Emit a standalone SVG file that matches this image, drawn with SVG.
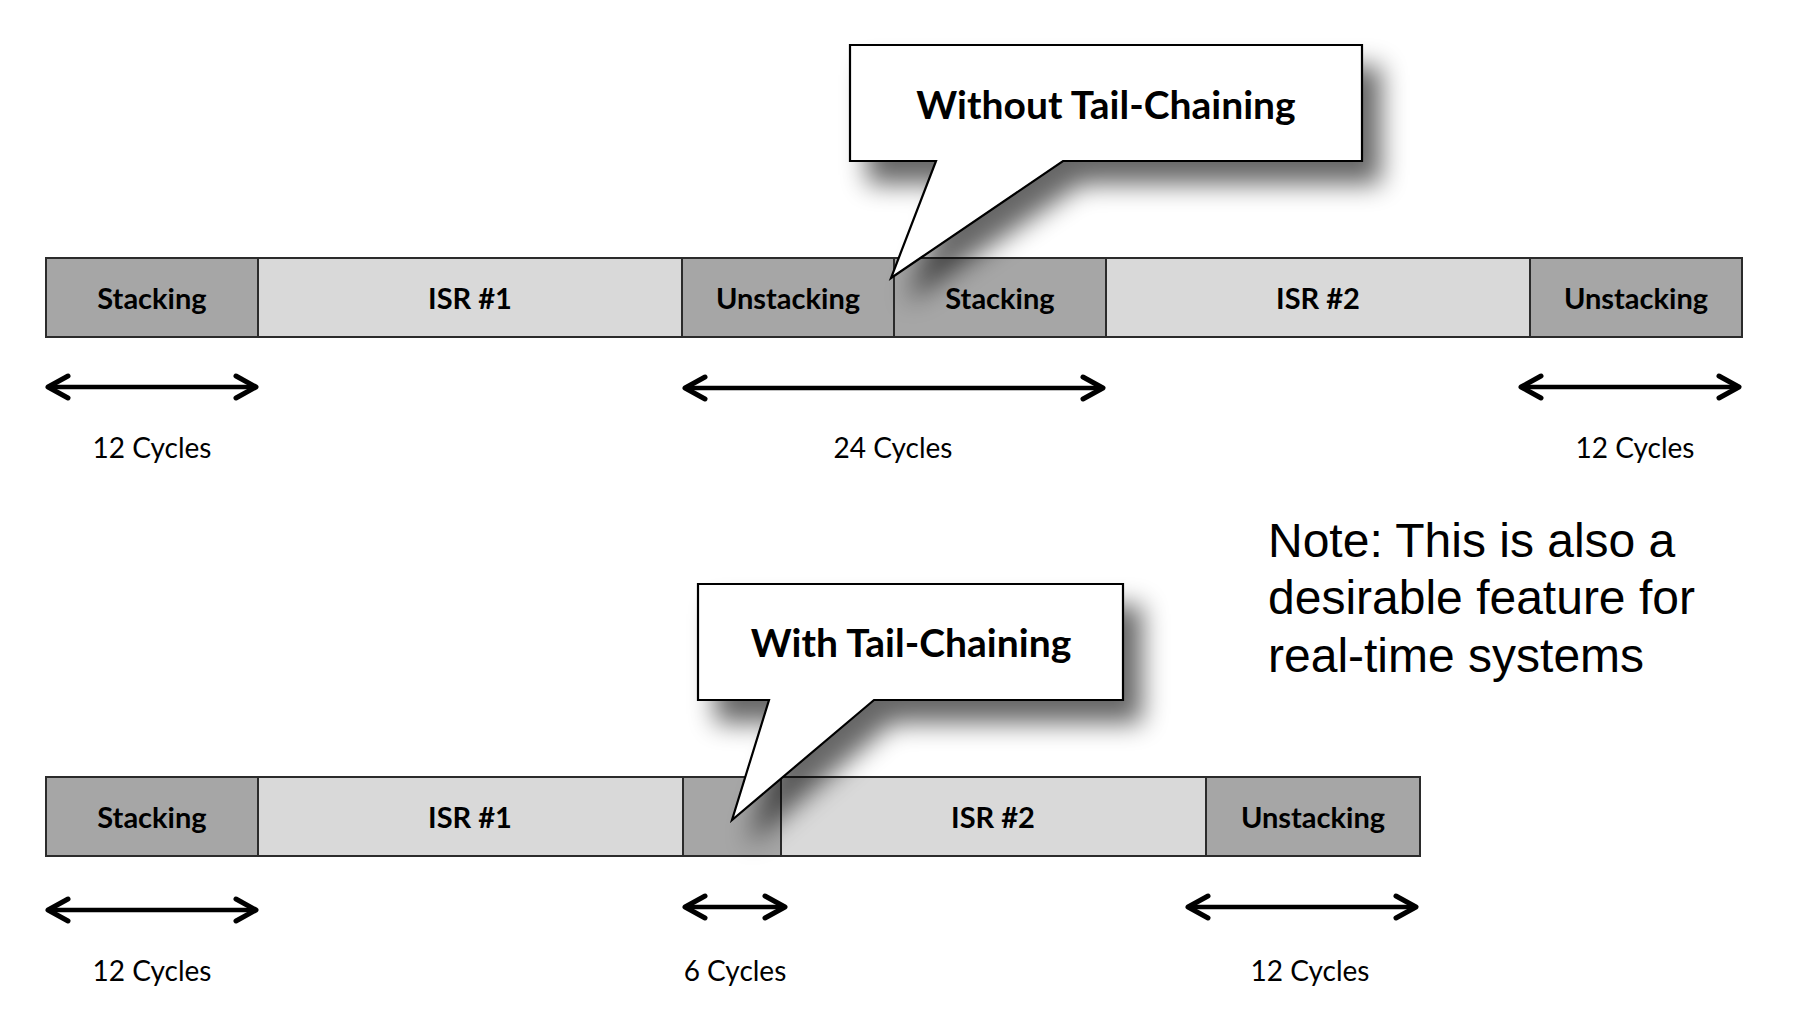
<svg xmlns="http://www.w3.org/2000/svg" width="1804" height="1020" viewBox="0 0 1804 1020">
<style>
.dark{fill:#a6a6a6;stroke:#2b2b2b;stroke-width:2}
.light{fill:#d9d9d9;stroke:#2b2b2b;stroke-width:2}
.lbl{font-family:Lato,"Open Sans",sans-serif;font-weight:bold;font-size:29px;fill:#000;text-anchor:middle}
.cyc{font-family:Lato,"Open Sans",sans-serif;font-size:28px;fill:#000;text-anchor:middle}
.callout{fill:#fff;stroke:#000;stroke-width:2.2;stroke-linejoin:miter;filter:url(#shadow)}
.ctext{font-family:Lato,"Open Sans",sans-serif;font-weight:bold;font-size:39px;fill:#000;text-anchor:middle}
.arrow{stroke:#000;stroke-width:4.5;fill:none;marker-start:url(#chev);marker-end:url(#chev)}
.note{font-family:"Liberation Sans",Arial,sans-serif;font-size:48px;fill:#000}
</style>
<defs>
<filter id="shadow" x="-25%" y="-25%" width="160%" height="170%">
<feGaussianBlur in="SourceAlpha" stdDeviation="13"/>
<feOffset dx="18" dy="22" result="b"/>
<feComponentTransfer><feFuncA type="linear" slope="0.6"/></feComponentTransfer>
<feMerge><feMergeNode/><feMergeNode in="SourceGraphic"/></feMerge>
</filter>
<marker id="chev" markerUnits="userSpaceOnUse" markerWidth="40" markerHeight="40" viewBox="-30 -20 40 40" refX="0" refY="0" orient="auto-start-reverse">
<path d="M -20 -11 L 0 0 L -20 11" fill="none" stroke="#000" stroke-width="5" stroke-linecap="round" stroke-linejoin="round"/>
</marker>
</defs>
<rect width="1804" height="1020" fill="#fff"/>

<g id="top-bar">
<g id="t-stacking1"><rect class="dark" x="46" y="258" width="212" height="79"/><text class="lbl" x="152" y="309">Stacking</text></g>
<g id="t-isr1"><rect class="light" x="258" y="258" width="424" height="79"/><text class="lbl" x="470" y="309">ISR #1</text></g>
<g id="t-unstacking1"><rect class="dark" x="682" y="258" width="212" height="79"/><text class="lbl" x="788" y="309">Unstacking</text></g>
<g id="t-stacking2"><rect class="dark" x="894" y="258" width="212" height="79"/><text class="lbl" x="1000" y="309">Stacking</text></g>
<g id="t-isr2"><rect class="light" x="1106" y="258" width="424" height="79"/><text class="lbl" x="1318" y="309">ISR #2</text></g>
<g id="t-unstacking2"><rect class="dark" x="1530" y="258" width="212" height="79"/><text class="lbl" x="1636" y="309">Unstacking</text></g>
</g>

<g id="bottom-bar">
<g id="b-stacking"><rect class="dark" x="46" y="777" width="212" height="79"/><text class="lbl" x="152" y="828">Stacking</text></g>
<g id="b-isr1"><rect class="light" x="258" y="777" width="425" height="79"/><text class="lbl" x="470" y="828">ISR #1</text></g>
<g id="b-tail"><rect class="dark" x="683" y="777" width="98" height="79"/></g>
<g id="b-isr2"><rect class="light" x="781" y="777" width="425" height="79"/><text class="lbl" x="993" y="828">ISR #2</text></g>
<g id="b-unstacking"><rect class="dark" x="1206" y="777" width="214" height="79"/><text class="lbl" x="1313" y="828">Unstacking</text></g>
</g>

<g id="connectors">
<line class="arrow" x1="48" y1="387" x2="256" y2="387"/>
<line class="arrow" x1="685" y1="388" x2="1103" y2="388"/>
<line class="arrow" x1="1521" y1="387" x2="1739" y2="387"/>
<line class="arrow" x1="48" y1="910" x2="256" y2="910"/>
<line class="arrow" x1="685" y1="907" x2="785" y2="907"/>
<line class="arrow" x1="1188" y1="907" x2="1416" y2="907"/>
</g>

<g id="cycle-labels">
<text class="cyc" x="152" y="458">12 Cycles</text>
<text class="cyc" x="893" y="458">24 Cycles</text>
<text class="cyc" x="1635" y="458">12 Cycles</text>
<text class="cyc" x="152" y="981">12 Cycles</text>
<text class="cyc" x="735" y="981">6 Cycles</text>
<text class="cyc" x="1310" y="981">12 Cycles</text>
</g>

<g id="callout-without">
<path class="callout" d="M850,45 H1362 V161 H1063 L891,278 L936,161 H850 Z"/>
<text class="ctext" x="1106" y="119">Without Tail-Chaining</text>
</g>

<g id="callout-with">
<path class="callout" d="M698,584 H1123 V700 H874 L732,820 L769,700 H698 Z"/>
<text class="ctext" x="911" y="657">With Tail-Chaining</text>
</g>

<g id="note">
<text class="note" x="1268" y="557">Note: This is also a</text>
<text class="note" x="1268" y="614">desirable feature for</text>
<text class="note" x="1268" y="672">real-time systems</text>
</g>
</svg>
